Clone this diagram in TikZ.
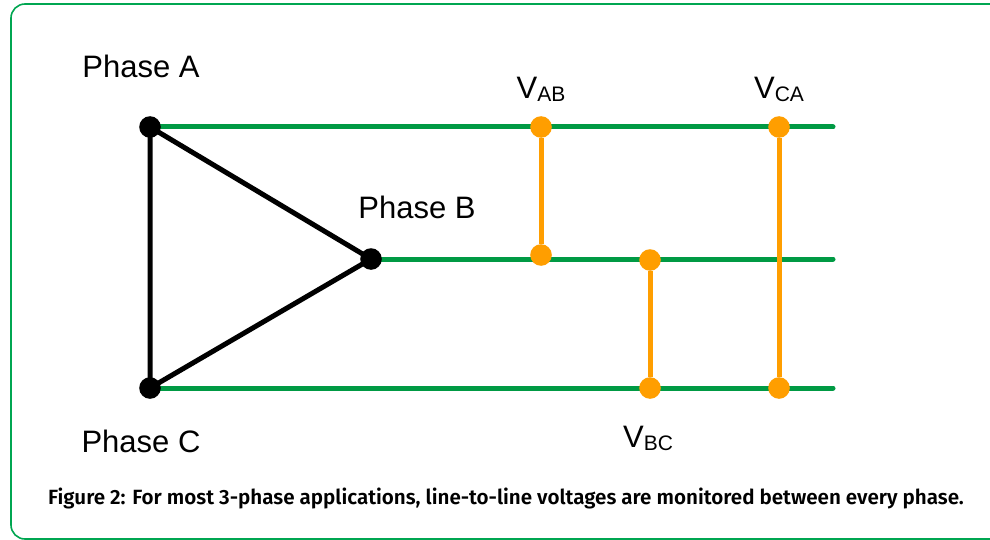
\documentclass[tikz,border=0pt]{standalone}
\usepackage{fontspec}
\setmainfont{Liberation Sans}
\newfontfamily\capfont{Fira Sans SemiBold}

\definecolor{busgreen}{RGB}{0,154,68}
\definecolor{meterorange}{RGB}{255,158,0}
\definecolor{framegreen}{RGB}{0,166,81}

\tikzset{
    busline/.style={busgreen, line width=2.5pt, line cap=round},
    meterline/.style={meterorange, line width=2.5pt},
    deltaline/.style={black, line width=2.5pt, line join=round},
    phasedot/.style={circle, fill=black, inner sep=0pt, minimum size=10.8pt},
    meterdot/.style={circle, fill=meterorange, inner sep=0pt, minimum size=10.8pt},
    phaselabel/.style={font=\fontsize{15.5pt}{18pt}\selectfont},
}

\newcommand{\volt}[1]{V\raisebox{-1.5pt}{\fontsize{10.5pt}{12pt}\selectfont #1}}

\begin{document}
\begin{tikzpicture}[x=0.5pt, y=-0.5pt]
    \useasboundingbox (0,0) rectangle (990,540);
    \clip (0,0) rectangle (990,540);

    % Outer frame (runs off the right edge)
    \draw[framegreen, line width=0.8pt, rounded corners=7pt] (11,4) rectangle (1010,539);

    % Positions of the phases
    \coordinate (pA) at (150,127);
    \coordinate (pB) at (371,259);
    \coordinate (pC) at (150,388);
    \coordinate (endA) at (833,127);
    \coordinate (endB) at (833,259);
    \coordinate (endC) at (833,388);

    % Phase lines
    \draw[busline] (pA) -- (endA);
    \draw[busline] (pB) -- (endB);
    \draw[busline] (pC) -- (endC);

    % Delta connection
    \draw[deltaline] (pA) -- (pB) -- (pC) -- cycle;

    \node[phasedot] (A) at (pA) {};
    \node[phasedot] (B) at (pB) {};
    \node[phasedot] (C) at (pC) {};

    % Meter points
    \node[meterdot] (ab1) at (541,127) {};
    \node[meterdot] (ab2) at (541,255) {};
    \node[meterdot] (bc1) at (650,260) {};
    \node[meterdot] (bc2) at (650,388) {};
    \node[meterdot] (ca1) at (779,127) {};
    \node[meterdot] (ca2) at (779,388) {};

    \draw[meterline] (ab1) -- (ab2);
    \draw[meterline] (bc1) -- (bc2);
    \draw[meterline] (ca1) -- (ca2);

    % Labels
    \node[phaselabel] (labA) at (141,66) {Phase A};
    \node[phaselabel] (labB) at (417,207) {Phase B};
    \node[phaselabel] (labC) at (141,441) {Phase C};

    \node[phaselabel] (vab) at (541,89) {\volt{AB}};
    \node[phaselabel] (vca) at (779,89) {\volt{CA}};
    \node[phaselabel] (vbc) at (648,438) {\volt{BC}};

    % Caption
    \node[font=\capfont\fontsize{10.3pt}{12pt}\selectfont] (cap) at (506,498)
        {Figure 2: For most 3-phase applications, line-to-line voltages are monitored between every phase.};
\end{tikzpicture}
\end{document}
